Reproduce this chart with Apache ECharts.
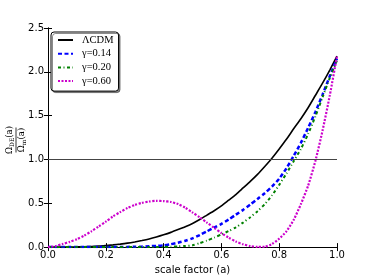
<!DOCTYPE html>
<html>
<head>
<meta charset="utf-8">
<script src="https://cdn.jsdelivr.net/npm/echarts@6/dist/echarts.min.js"></script>
<style>
html, body { margin: 0; padding: 0; background: #fff; }
#main { width: 374px; height: 280px; }
</style>
</head>
<body>
<div id="main"></div>
<script>
// values, every 0.025 in a
var scaleFactor = [0, 0.025, 0.05, 0.075, 0.1, 0.125, 0.15, 0.175, 0.2, 0.225,
  0.25, 0.275, 0.3, 0.325, 0.35, 0.375, 0.4, 0.425, 0.45, 0.475,
  0.5, 0.525, 0.55, 0.575, 0.6, 0.625, 0.65, 0.675, 0.7, 0.725,
  0.75, 0.775, 0.8, 0.825, 0.85, 0.875, 0.9, 0.925, 0.95, 0.975, 1.0]
var lcdm = [0, 0, 0, 0.001, 0.002, 0.004, 0.007, 0.012, 0.017, 0.025,
  0.034, 0.045, 0.059, 0.075, 0.093, 0.115, 0.14, 0.168, 0.2, 0.233,
  0.27, 0.315, 0.365, 0.415, 0.47, 0.535, 0.6, 0.675, 0.75, 0.83,
  0.92, 1.015, 1.12, 1.23, 1.35, 1.465, 1.59, 1.73, 1.87, 2.02, 2.18]
var gamma014 = [0, 0, 0, 0, 0, 0, 0, 0, 0, 0,
  0, 0.002, 0.004, 0.006, 0.01, 0.014, 0.02, 0.033, 0.05, 0.072,
  0.1, 0.138, 0.18, 0.222, 0.265, 0.315, 0.37, 0.425, 0.485, 0.55,
  0.615, 0.69, 0.78, 0.9, 1.04, 1.19, 1.36, 1.54, 1.74, 1.95, 2.15]
var gamma020 = [0, 0, 0, 0, 0, 0, 0, 0, 0, 0,
  0, 0, 0, 0, 0, 0, 0.002, 0.004, 0.008, 0.013,
  0.02, 0.045, 0.075, 0.108, 0.145, 0.183, 0.225, 0.28, 0.34, 0.41,
  0.49, 0.59, 0.71, 0.84, 0.98, 1.12, 1.29, 1.49, 1.71, 1.93, 2.13]
var gamma060 = [0, 0.01, 0.035, 0.06, 0.09, 0.13, 0.18, 0.235, 0.29, 0.35,
  0.4, 0.445, 0.48, 0.505, 0.52, 0.528, 0.525, 0.515, 0.492, 0.45,
  0.395, 0.34, 0.28, 0.22, 0.16, 0.108, 0.063, 0.032, 0.012, 0.002,
  0.004, 0.035, 0.097, 0.18, 0.31, 0.49, 0.7, 0.98, 1.33, 1.73, 2.18]
var seriesNames = ['ΛCDM', 'γ=0.14', 'γ=0.20', 'γ=0.60']

function pairs (ys) {
  return scaleFactor.map(function (x, i) { return [x, ys[i]] })
}

var chartDom = document.getElementById('main')
var myChart = echarts.init(chartDom)

var tickFont = { color: '#000', fontSize: 10, fontFamily: 'DejaVu Sans' }
var mathRich = {
  o: { fontFamily: 'DejaVu Serif', fontSize: 8.5, color: '#000' },
  s: { fontFamily: 'DejaVu Serif', fontSize: 6, color: '#000', verticalAlign: 'bottom', padding: [4, 0, 0, 0] }
}

var option = {
  animation: false,
  grid: { left: 48, right: 37, top: 28, bottom: 28 },
  legend: {
    orient: 'vertical',
    left: 51,
    top: 32,
    padding: [2.5, 5, 4.5, 6],
    itemWidth: 15,
    itemHeight: 11,
    itemGap: 2.7,
    borderColor: '#000',
    borderWidth: 1,
    borderRadius: 3,
    backgroundColor: '#fff',
    shadowColor: 'rgba(0,0,0,0.45)',
    shadowOffsetX: 1.5,
    shadowOffsetY: 1.5,
    shadowBlur: 0,
    itemStyle: { opacity: 0 },
    textStyle: { fontFamily: 'Liberation Serif', fontSize: 10.5, lineHeight: 11, color: '#000', padding: [0, 0, 0, 4] },
    data: seriesNames
  },
  xAxis: [
    {
      type: 'value', min: 0, max: 1, interval: 0.2,
      name: 'scale factor (a)', nameLocation: 'middle', nameGap: 16,
      nameTextStyle: { color: '#000', fontSize: 10, fontFamily: 'DejaVu Sans' },
      axisLine: { lineStyle: { color: '#000', width: 1 } },
      axisTick: { inside: true, length: 4, lineStyle: { color: '#000' } },
      axisLabel: Object.assign({ margin: 3, formatter: function (v) { return v.toFixed(1) } }, tickFont),
      splitLine: { show: false }
    },
    {
      type: 'value', min: 0, max: 1, interval: 0.2, position: 'top',
      axisLine: { lineStyle: { color: '#000', width: 1 } },
      axisTick: { inside: true, length: 4, lineStyle: { color: '#000' } },
      axisLabel: { show: false },
      splitLine: { show: false }
    }
  ],
  yAxis: [
    {
      type: 'value', min: 0, max: 2.5, interval: 0.5,
      axisLine: { show: true, lineStyle: { color: '#000', width: 1 } },
      axisTick: { show: true, inside: true, length: 4, lineStyle: { color: '#000' } },
      axisLabel: Object.assign({ margin: 4, formatter: function (v) { return v.toFixed(1) } }, tickFont),
      splitLine: { show: false }
    },
    {
      type: 'value', min: 0, max: 2.5, interval: 0.5, position: 'right',
      axisLine: { show: true, lineStyle: { color: '#000', width: 1 } },
      axisTick: { show: true, inside: true, length: 4, lineStyle: { color: '#000' } },
      axisLabel: { show: false },
      splitLine: { show: false }
    }
  ],
  graphic: [
    {
      type: 'group',
      x: 16,
      y: 140,
      rotation: Math.PI / 2,
      children: [
        {
          type: 'text',
          x: 0, y: -1,
          style: { text: '{o|Ω}{s|DE}{o|(a)}', rich: mathRich, align: 'center', verticalAlign: 'bottom' }
        },
        {
          type: 'line',
          shape: { x1: -12.5, y1: 0, x2: 12.5, y2: 0 },
          style: { stroke: '#000', lineWidth: 0.8 }
        },
        {
          type: 'text',
          x: 0, y: 1,
          style: { text: '{o|Ω}{s|m}{o|(a)}', rich: mathRich, align: 'center', verticalAlign: 'top' }
        }
      ]
    }
  ],
  series: [
    {
      name: seriesNames[0],
      type: 'line',
      data: pairs(lcdm),
      smooth: 0.2,
      symbol: 'none',
      lineStyle: { color: '#000', width: 1.6 },
      itemStyle: { color: '#000' },
      markLine: {
        silent: true,
        symbol: 'none',
        label: { show: false },
        lineStyle: { color: '#444', width: 1.2, type: 'solid' },
        data: [{ yAxis: 1 }]
      },
      z: 3
    },
    {
      name: seriesNames[1],
      type: 'line',
      data: pairs(gamma014),
      smooth: 0.2,
      symbol: 'none',
      lineStyle: { color: '#0000ff', width: 2.5, type: [4, 2.5] },
      itemStyle: { color: '#0000ff' },
      z: 4
    },
    {
      name: seriesNames[2],
      type: 'line',
      data: pairs(gamma020),
      smooth: 0.2,
      symbol: 'none',
      lineStyle: { color: '#008000', width: 2, type: [3, 2.5, 1, 2.5] },
      itemStyle: { color: '#008000' },
      z: 4
    },
    {
      name: seriesNames[3],
      type: 'line',
      data: pairs(gamma060),
      smooth: 0.2,
      symbol: 'none',
      lineStyle: { color: '#cc00cc', width: 2.2, type: [2, 1.5] },
      itemStyle: { color: '#cc00cc' },
      z: 4
    }
  ]
}

option && myChart.setOption(option)
</script>
</body>
</html>
